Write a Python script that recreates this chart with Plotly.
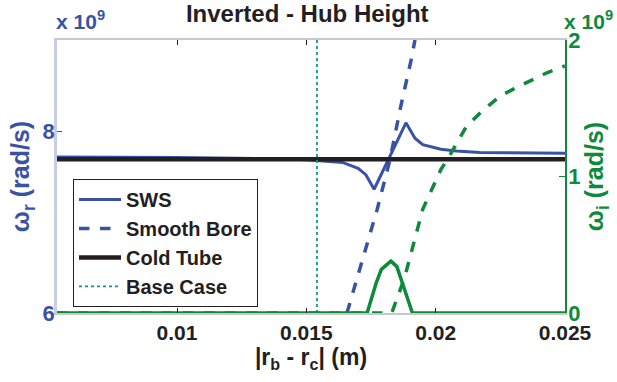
import plotly.graph_objects as go

# Beam-to-wall gap |r_b - r_c| in metres
x_min, x_max = 0.00536, 0.025

# Real frequency of the SWS mode (x 1e9 rad/s)
sws_x = [0.00536, 0.0100, 0.0135, 0.0150, 0.0164, 0.0170, 0.0173, 0.01762,
         0.01885, 0.0192, 0.0195, 0.0202, 0.0208, 0.0217, 0.0250]
sws_wr = [7.715, 7.71, 7.695, 7.685, 7.655, 7.59, 7.52, 7.36,
          8.09, 7.92, 7.85, 7.80, 7.78, 7.765, 7.755]

# Real frequency of the smooth-bore mode (x 1e9 rad/s)
sb_x = [0.01657, 0.01738, 0.01773, 0.01823, 0.01862, 0.01905, 0.0192]
sb_wr = [6.0, 6.80, 7.13, 7.68, 8.23, 8.78, 9.0]

# Cold-tube frequency (x 1e9 rad/s)
cold_x = [x_min, x_max]
cold_wr = [7.69, 7.69]

# Base-case gap
base_x = 0.01541

# Growth rate of the SWS mode (x 1e9 rad/s)
swsi_x = [x_min, 0.01735, 0.0177, 0.0179, 0.01827, 0.0185, 0.0188, 0.0191, x_max]
swsi_wi = [0.0, 0.0, 0.22, 0.32, 0.38, 0.34, 0.17, 0.0, 0.0]

# Growth rate of the smooth-bore mode (x 1e9 rad/s)
sbi_x = [x_min, 0.0183, 0.0188, 0.0195, 0.0202, 0.0205, 0.0212, 0.0218,
         0.0225, 0.0230, 0.0243, 0.0250]
sbi_wi = [0.0, 0.0, 0.26, 0.76, 1.05, 1.14, 1.37, 1.48,
          1.59, 1.64, 1.76, 1.81]

BLUE = "#3953a4"
GREEN = "#0e8a3c"
TEAL = "#15958f"
BLACK = "#231f20"
FONT = "Liberation Sans, Arial, sans-serif"

fig = go.Figure()
fig.add_trace(go.Scatter(x=sws_x, y=sws_wr, mode="lines", name="SWS",
                         line=dict(color=BLUE, width=3)))
fig.add_trace(go.Scatter(x=sb_x, y=sb_wr, mode="lines", name="Smooth Bore",
                         line=dict(color=BLUE, width=3.5, dash="dash")))
fig.add_trace(go.Scatter(x=cold_x, y=cold_wr, mode="lines", name="Cold Tube",
                         line=dict(color=BLACK, width=4.5)))
fig.add_trace(go.Scatter(x=[base_x, base_x], y=[6, 9], mode="lines", name="Base Case",
                         line=dict(color=TEAL, width=1.8, dash="dot")))
fig.add_trace(go.Scatter(x=sbi_x, y=sbi_wi, mode="lines", yaxis="y2", showlegend=False,
                         cliponaxis=False, line=dict(color=GREEN, width=3.5, dash="dash")))
fig.add_trace(go.Scatter(x=swsi_x, y=swsi_wi, mode="lines", yaxis="y2", showlegend=False,
                         cliponaxis=False, line=dict(color=GREEN, width=3.5)))

fig.update_layout(
    width=617, height=382, autosize=False,
    margin=dict(l=57, r=52, t=40, b=69),
    plot_bgcolor="white", paper_bgcolor="white",
    font=dict(family=FONT, color=BLACK),
    title=dict(text="Inverted - Hub Height", x=0.498, xanchor="center",
               y=0.964, yanchor="middle", yref="container",
               font=dict(size=24, weight="bold", color=BLACK)),
    xaxis=dict(range=[x_min, x_max], tickvals=[0.01, 0.015, 0.02, 0.025],
               ticktext=["0.01", "0.015", "0.02", "0.025"],
               ticks="inside", ticklen=5, tickcolor=BLACK, tickwidth=1,
               showline=True, linecolor="#c8c8c8", linewidth=1.5, mirror="ticks",
               showgrid=False, zeroline=False,
               tickfont=dict(size=21, weight="bold", color=BLACK),
               title=dict(text="|r<sub>b</sub> - r<sub>c</sub>| (m)", standoff=2,
                          font=dict(size=23, weight="bold", color=BLACK))),
    yaxis=dict(range=[6, 9], tickvals=[6, 8], ticktext=["6", "8"],
               ticks="inside", ticklen=5, tickcolor=BLUE, tickwidth=1,
               showline=True, linecolor="#c8cde6", linewidth=2.5,
               showgrid=False, zeroline=False, ticklabelstandoff=-5,
               tickfont=dict(size=22, weight="bold", color=BLUE),
               title=dict(text="ω<sub>r</sub> (rad/s)", standoff=6,
                          font=dict(size=25, weight="bold", color=BLUE))),
    yaxis2=dict(range=[0, 2], overlaying="y", side="right",
                tickvals=[0, 1, 2], ticktext=["0", "1", "2"],
                ticks="inside", ticklen=6, tickcolor=GREEN, tickwidth=1,
                showline=True, linecolor=GREEN, linewidth=1.5,
                showgrid=False, zeroline=False, ticklabelstandoff=-3,
                tickfont=dict(size=22, weight="bold", color=GREEN),
                title=dict(text="ω<sub>i</sub> (rad/s)", standoff=4,
                           font=dict(size=25, weight="bold", color=GREEN))),
    legend=dict(x=0.0315, y=0.491, xanchor="left", yanchor="top",
                bgcolor="white", bordercolor=BLACK, borderwidth=1,
                font=dict(size=20, weight="bold", color=BLACK),
                itemwidth=42, tracegroupgap=0),
    showlegend=True,
)

# Scale factors for both frequency axes
fig.add_annotation(text="x 10<sup>9</sup>", xref="paper", yref="paper",
                   x=0, y=1.02, xanchor="left", yanchor="bottom", showarrow=False,
                   xshift=-3, font=dict(size=21, weight="bold", color=BLUE))
fig.add_annotation(text="x 10<sup>9</sup>", xref="paper", yref="paper",
                   x=1, y=1.02, xanchor="left", yanchor="bottom", showarrow=False,
                   xshift=-3, font=dict(size=21, weight="bold", color=GREEN))

fig.write_html("out.html")
